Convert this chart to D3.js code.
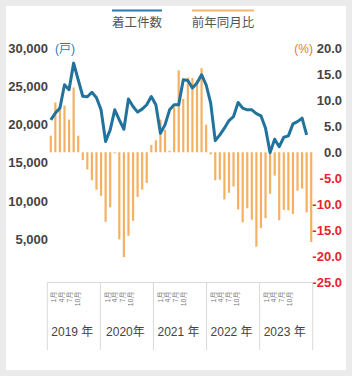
<!DOCTYPE html>
<html>
<head>
<meta charset="utf-8">
<script src="https://cdn.jsdelivr.net/npm/d3@7"></script>
<style>
  html, body { margin: 0; padding: 0; background: #ebebeb; }
  #content { width: 352px; height: 376px; }
  text { font-family: "Liberation Sans", Arial, "Noto Sans CJK JP", sans-serif; }
</style>
</head>
<body>
<div id="content"></div>
<script>
// months Jan 2019 .. Oct 2023
const years = ["2019", "2020", "2021", "2022", "2023"];
const yearLabels = ["2019 年", "2020年", "2021 年", "2022 年", "2023 年"];
const monthLabels = ["1月", "4月", "7月", "10月"];
const months = [];
years.forEach(y => d3.range(1, 13).forEach(m => months.push(y + "-" + m)));
months.splice(58);

// 着工件数 (戸)
const starts = [
  20630, 21520, 22170, 25240, 24590, 28080, 25900, 23730, 23660, 24260, 23530, 21950,
  17800, 19320, 21950, 20630, 19400, 23360, 22380, 21650, 22040, 22610, 23700, 22610,
  18880, 19970, 21950, 22610, 22610, 25900, 25810, 24810, 25470, 26560, 25240, 22830,
  17900, 18660, 19540, 20540, 21070, 22910, 22170, 21950, 21950, 21450, 21160, 19540,
  16330, 18090, 17110, 18350, 18530, 20100, 20400, 20850, 18660, null
];
// 前年同月比 (%)
const yoy = [
  3.2, 9.6, 8.2, 9.0, 6.3, 12.5, 3.2, -1.5, -3.3, -5.4, -7.2, -8.4,
  -13.4, -10.6, -0.2, -16.8, -20.2, -16.1, -13.2, -8.6, -7.2, -5.9, 1.4, 2.3,
  6.3, 4.3, 0.3, 8.7, 15.8, 10.3, 14.4, 14.3, 13.9, 16.2, 5.3, -0.4,
  -5.4, -5.3, -9.1, -7.8, -6.6, -11.0, -13.5, -10.8, -13.0, -18.2, -14.6, -12.7,
  -8.0, -4.5, -13.1, -11.1, -11.2, -11.9, -7.4, -7.0, -11.6, -17.3
];
const leftTicks = [5000, 10000, 15000, 20000, 25000, 30000];
const rightTicks = [-25, -20, -15, -10, -5, 0, 5, 10, 15, 20];

const width = 352;
const height = 376;
const blue = "#21729c";
const orange = "#f5b163";

const canvas = d3.select("#content")
  .append("svg")
  .attr("width", width)
  .attr("height", height);

canvas.append("rect")
  .attr("x", 6).attr("y", 6)
  .attr("width", 340).attr("height", 364)
  .attr("fill", "#fff");

const xScale = d3.scaleBand()
  .domain(months)
  .range([48.5, 313.5]);
const yLeft = d3.scaleLinear()
  .domain([0, 30000])
  .range([277, 48.5]);
const yRight = d3.scaleLinear()
  .domain([-25, 20])
  .range([282, 48.5]);
const xYear = d3.scaleBand()
  .domain(years)
  .range([47.3, 312.7]);

// legend
const legend = [
  { name: "着工件数", color: "#2a7ab0", x: 112, w: 50 },
  { name: "前年同月比", color: "#f7b56b", x: 192, w: 62 }
];
legend.forEach(l => {
  canvas.append("line")
    .attr("x1", l.x).attr("x2", l.x + l.w)
    .attr("y1", 10.5).attr("y2", 10.5)
    .attr("stroke", l.color)
    .attr("stroke-width", 2.2);
  canvas.append("text")
    .attr("x", l.x + l.w / 2).attr("y", 22.5)
    .attr("text-anchor", "middle")
    .attr("dominant-baseline", "central")
    .attr("font-size", 12.5)
    .attr("fill", "#555")
    .text(l.name);
});

// bars
canvas.selectAll("rect.bar")
  .data(yoy)
  .enter()
  .append("rect")
  .attr("class", "bar")
  .attr("x", (d, i) => xScale(months[i]) + xScale.bandwidth() / 2 - 1.1)
  .attr("y", d => yRight(Math.max(0, d)))
  .attr("width", 2.2)
  .attr("height", d => Math.abs(yRight(d) - yRight(0)))
  .attr("fill", orange);

// line
const line = d3.line()
  .defined(d => d != null)
  .x((d, i) => xScale(months[i]) + xScale.bandwidth() / 2)
  .y(d => yLeft(d));

canvas.append("path")
  .datum(starts)
  .attr("d", line)
  .attr("fill", "none")
  .attr("stroke", blue)
  .attr("stroke-width", 3)
  .attr("stroke-linejoin", "round");

// axes
const leftAxis = canvas.append("g")
  .attr("transform", "translate(48, 0)")
  .call(d3.axisLeft(yLeft).tickValues(leftTicks).tickSize(0).tickPadding(0)
    .tickFormat(d3.format(",")));
leftAxis.select(".domain").remove();
leftAxis.selectAll("text")
  .attr("font-size", 13)
  .attr("font-weight", "bold")
  .attr("fill", "#444");

const rightAxis = canvas.append("g")
  .attr("transform", "translate(342, 0)")
  .call(d3.axisRight(yRight).tickValues(rightTicks).tickSize(0).tickPadding(0)
    .tickFormat(d => d.toFixed(1)));
rightAxis.select(".domain").remove();
rightAxis.selectAll("text")
  .attr("text-anchor", "end")
  .attr("x", 0)
  .attr("font-size", 13)
  .attr("font-weight", "bold")
  .attr("fill", d => d < 0 ? "#e8232b" : "#444");
canvas.selectAll("g text").attr("font-family", null);

canvas.append("text")
  .attr("x", 55).attr("y", 48.5)
  .attr("dominant-baseline", "central")
  .attr("font-size", 12)
  .attr("fill", "#2a7ab0")
  .text("(戸)");
canvas.append("text")
  .attr("x", 313).attr("y", 48.5)
  .attr("text-anchor", "end")
  .attr("dominant-baseline", "central")
  .attr("font-size", 12)
  .attr("fill", "#e87a1e")
  .text("(%)");

// category table below the plot
const table = canvas.append("g");
table.append("line")
  .attr("x1", xYear.range()[0]).attr("x2", xYear.range()[1])
  .attr("y1", 282.5).attr("y2", 282.5)
  .attr("stroke", "#d9d9d9");
table.selectAll("line.sep")
  .data(years.concat(["end"]))
  .enter()
  .append("line")
  .attr("class", "sep")
  .attr("x1", d => d === "end" ? xYear.range()[1] : xYear(d))
  .attr("x2", d => d === "end" ? xYear.range()[1] : xYear(d))
  .attr("y1", 282.5).attr("y2", 350)
  .attr("stroke", "#d9d9d9");

years.forEach((y, yi) => {
  monthLabels.forEach((m, mi) => {
    const cx = xYear(y) + 6.7 + mi * 7.7;
    table.append("text")
      .attr("transform", `translate(${cx}, 291.5) rotate(-90)`)
      .attr("text-anchor", "end")
      .attr("dy", "0.35em")
      .attr("font-size", 7)
      .attr("fill", "#777")
      .text(m);
  });
  table.append("text")
    .attr("x", xYear(y) + xYear.bandwidth() / 2 - 1.5)
    .attr("y", 332)
    .attr("text-anchor", "middle")
    .attr("dominant-baseline", "central")
    .attr("font-size", 12)
    .attr("fill", "#444")
    .text(yearLabels[yi]);
});
</script>
</body>
</html>
